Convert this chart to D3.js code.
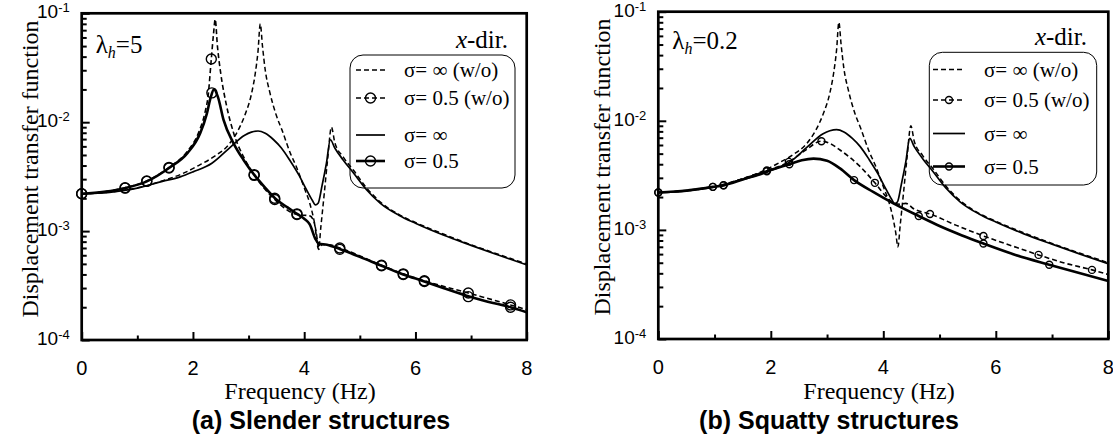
<!DOCTYPE html>
<html>
<head>
<meta charset="utf-8">
<script src="https://cdn.jsdelivr.net/npm/d3@7"></script>
<style>
body { margin: 0; background: #fff; }
svg text { fill: #000; }
</style>
</head>
<body>
<svg id="chart" width="1113" height="443"></svg>
<script>
// axis ticks and legend labels
var freqTicks = [0, 1, 2, 3, 4, 5, 6, 7, 8]
var freqLabels = [0, 2, 4, 6, 8]
var decadeExp = [-4, -3, -2, -1]
var legendNames = ["σ= ∞ (w/o)", "σ= 0.5 (w/o)", "σ= ∞", "σ= 0.5"]

// sigma = infinity, same in both panels
var infWo = [[0, 2.2e-3], [0.5, 2.28e-3], [1.0, 2.5e-3], [1.5, 2.95e-3], [1.8, 3.35e-3], [2.1, 4.0e-3],
  [2.37, 4.8e-3], [2.64, 6.2e-3], [2.8, 8.2e-3], [2.93, 1.15e-2], [3.05, 1.8e-2], [3.12, 2.8e-2],
  [3.17, 4.5e-2], [3.21, 8.0e-2], [3.25, 5.0e-2], [3.3, 3.0e-2], [3.38, 1.9e-2], [3.5, 1.15e-2],
  [3.6, 8.5e-3], [3.75, 5.2e-3], [3.85, 4.0e-3], [4.0, 2.5e-3], [4.1, 1.8e-3], [4.17, 1.3e-3],
  [4.22, 9.5e-4], [4.26, 7.0e-4], [4.3, 1.1e-3], [4.36, 2.2e-3], [4.42, 4.5e-3], [4.49, 9.0e-3],
  [4.55, 6.5e-3], [4.7, 4.8e-3], [4.89, 3.6e-3], [5.12, 2.5e-3], [5.37, 1.85e-3], [5.7, 1.42e-3],
  [6.0, 1.2e-3], [6.5, 9.4e-4], [7.0, 7.5e-4], [7.5, 6.1e-4], [8.0, 5.0e-4]]
var inf = [[0, 2.2e-3], [0.5, 2.27e-3], [1.0, 2.48e-3], [1.45, 2.86e-3], [1.77, 3.15e-3], [2.0, 3.5e-3],
  [2.34, 4.2e-3], [2.64, 5.7e-3], [2.93, 7.6e-3], [3.05, 8.1e-3], [3.17, 8.3e-3], [3.3, 7.9e-3],
  [3.45, 6.9e-3], [3.59, 5.8e-3], [3.75, 4.4e-3], [3.9, 3.3e-3], [4.05, 2.35e-3], [4.15, 1.9e-3],
  [4.2, 1.74e-3], [4.25, 1.8e-3], [4.32, 2.6e-3], [4.4, 4.2e-3], [4.47, 6.9e-3], [4.55, 5.8e-3],
  [4.7, 4.5e-3], [4.89, 3.4e-3], [5.12, 2.4e-3], [5.37, 1.8e-3], [5.7, 1.4e-3], [6.0, 1.18e-3],
  [6.5, 9.2e-4], [7.0, 7.4e-4], [7.5, 6.0e-4], [8.0, 4.9e-4]]

// (a) slender, lambda_h = 5, sigma = 0.5
var slenderWo = [[0, 2.2e-3], [0.4, 2.3e-3], [0.78, 2.5e-3], [1.17, 2.88e-3], [1.57, 3.85e-3], [1.9, 5.4e-3],
  [2.1, 8.0e-3], [2.22, 1.25e-2], [2.27, 1.7e-2], [2.33, 3.8e-2], [2.37, 6.5e-2], [2.4, 8.8e-2],
  [2.44, 5.0e-2], [2.5, 2.8e-2], [2.6, 1.45e-2], [2.73, 8.0e-3], [2.91, 4.8e-3], [3.1, 3.3e-3],
  [3.47, 1.95e-3], [3.87, 1.42e-3], [4.1, 1.38e-3], [4.18, 1.2e-3], [4.26, 6.8e-4], [4.32, 7.5e-4],
  [4.45, 7.5e-4], [4.64, 7.0e-4], [5.39, 4.85e-4], [5.78, 4.05e-4], [6.16, 3.5e-4], [6.95, 2.7e-4],
  [7.71, 2.1e-4], [8.0, 1.9e-4]]
var slender = [[0, 2.2e-3], [0.4, 2.3e-3], [0.78, 2.48e-3], [1.17, 2.86e-3], [1.57, 3.8e-3], [1.9, 5.2e-3],
  [2.13, 7.9e-3], [2.25, 1.2e-2], [2.32, 1.7e-2], [2.38, 2.0e-2], [2.45, 1.7e-2], [2.55, 1.05e-2],
  [2.73, 6.4e-3], [2.91, 4.5e-3], [3.12, 3.2e-3], [3.3, 2.5e-3], [3.5, 1.95e-3], [3.7, 1.65e-3],
  [3.88, 1.43e-3], [4.0, 1.3e-3], [4.1, 1.15e-3], [4.2, 8.5e-4], [4.26, 7.7e-4], [4.41, 7.5e-4],
  [4.65, 6.8e-4], [5.0, 5.8e-4], [5.39, 4.8e-4], [5.78, 4.0e-4], [6.16, 3.45e-4], [6.5, 3.0e-4],
  [6.92, 2.55e-4], [7.3, 2.25e-4], [7.71, 2.0e-4], [8.0, 1.8e-4]]
var slenderWoMarks = [[0, 2.2e-3], [0.78, 2.5e-3], [1.17, 2.88e-3], [1.57, 3.85e-3], [2.33, 3.8e-2], [3.1, 3.3e-3],
  [3.47, 1.95e-3], [3.87, 1.42e-3], [4.64, 7.0e-4], [5.39, 4.85e-4], [5.78, 4.05e-4], [6.16, 3.5e-4],
  [6.95, 2.7e-4], [7.71, 2.1e-4]]
var slenderMarks = [[0, 2.2e-3], [0.78, 2.48e-3], [1.17, 2.86e-3], [1.57, 3.8e-3], [2.34, 1.86e-2], [3.1, 3.25e-3],
  [3.47, 2.0e-3], [3.87, 1.44e-3], [4.64, 6.8e-4], [5.39, 4.8e-4], [5.78, 4.0e-4], [6.16, 3.45e-4],
  [6.95, 2.5e-4], [7.71, 2.0e-4]]

// (b) squatty, lambda_h = 0.2, sigma = 0.5
var squattyWo = [[0, 2.2e-3], [0.5, 2.3e-3], [0.97, 2.48e-3], [1.16, 2.57e-3], [1.5, 2.95e-3], [1.93, 3.5e-3],
  [2.32, 4.2e-3], [2.6, 5.3e-3], [2.9, 6.5e-3], [3.05, 6.2e-3], [3.23, 5.4e-3], [3.59, 3.8e-3],
  [3.85, 2.7e-3], [4.06, 2.0e-3], [4.2, 1.75e-3], [4.3, 1.72e-3], [4.4, 1.75e-3], [4.55, 1.55e-3],
  [4.83, 1.4e-3], [5.3, 1.1e-3], [5.78, 8.8e-4], [6.3, 7.1e-4], [6.76, 5.9e-4], [7.2, 5.0e-4],
  [7.71, 4.3e-4], [8.0, 3.9e-4]]
var squatty = [[0, 2.2e-3], [0.5, 2.3e-3], [0.97, 2.48e-3], [1.16, 2.56e-3], [1.5, 2.9e-3], [1.93, 3.45e-3],
  [2.33, 4.0e-3], [2.55, 4.35e-3], [2.76, 4.5e-3], [3.0, 4.3e-3], [3.23, 3.66e-3], [3.48, 2.86e-3],
  [3.82, 2.23e-3], [4.18, 1.75e-3], [4.63, 1.34e-3], [5.01, 1.08e-3], [5.4, 8.9e-4], [5.78, 7.5e-4],
  [6.35, 5.9e-4], [6.95, 4.8e-4], [7.5, 4.0e-4], [8.0, 3.4e-4]]
var squattyWoMarks = [[0, 2.2e-3], [0.97, 2.48e-3], [1.16, 2.57e-3], [1.93, 3.5e-3], [2.32, 4.2e-3], [2.9, 6.5e-3],
  [3.85, 2.7e-3], [4.83, 1.4e-3], [5.78, 8.8e-4], [6.76, 5.9e-4], [7.71, 4.3e-4]]
var squattyMarks = [[0, 2.2e-3], [0.97, 2.48e-3], [1.16, 2.56e-3], [1.93, 3.45e-3], [2.33, 4.0e-3], [3.48, 2.86e-3],
  [4.63, 1.34e-3], [5.78, 7.5e-4], [6.95, 4.8e-4]]

var svg = d3.select("#chart")
var serif = "'Liberation Serif', 'Times New Roman', serif"
var sans = "'Liberation Sans', Arial, sans-serif"

function drawPanel(p) {
    var x = d3.scaleLinear().domain([0, 8]).range([p.left, p.right])
    var y = d3.scaleLog().domain([1e-4, 1e-1]).range([p.bottom, p.top])
    var g = svg.append("g")

    // y ticks (inside)
    var minor = []
    decadeExp.slice(0, 3).forEach(function (e) {
        for (var k = 2; k < 10; k++) minor.push(k * Math.pow(10, e))
    })
    var majors = decadeExp.map(function (e) { return Math.pow(10, e) })
    g.append("g").attr("class", "ax").attr("transform", "translate(" + p.left + ",0)")
        .call(d3.axisLeft(y).tickValues(minor).tickSize(-5).tickFormat(""))
    g.append("g").attr("class", "ax").attr("transform", "translate(" + p.left + ",0)")
        .call(d3.axisLeft(y).tickValues(majors).tickSize(-8).tickFormat(""))
    // x ticks (inside)
    g.append("g").attr("class", "ax").attr("transform", "translate(0," + p.bottom + ")")
        .call(d3.axisBottom(x).tickValues(freqTicks.filter(function (d) { return d % 2 })).tickSize(-4.5).tickFormat(""))
    g.append("g").attr("class", "ax").attr("transform", "translate(0," + p.bottom + ")")
        .call(d3.axisBottom(x).tickValues(freqLabels).tickSize(-8).tickFormat(""))
    g.selectAll(".ax .domain").remove()
    g.selectAll(".ax line").attr("stroke", "#000").attr("stroke-width", 2)

    // frame
    g.append("rect")
        .attr("x", p.left).attr("y", p.top)
        .attr("width", p.right - p.left).attr("height", p.bottom - p.top)
        .attr("fill", "none").attr("stroke", "#000").attr("stroke-width", 2.7)

    // tick labels
    g.selectAll(".xl").data(freqLabels).enter().append("text")
        .attr("x", function (d) { return x(d) })
        .attr("y", p.bottom + 35)
        .attr("text-anchor", "middle")
        .style("font-family", sans).style("font-size", "20px")
        .text(function (d) { return d })
    decadeExp.forEach(function (e) {
        var t = g.append("text")
            .attr("x", p.left - 12).attr("y", y(Math.pow(10, e)) + 5)
            .attr("text-anchor", "end")
            .style("font-family", sans).style("font-size", "19px")
        t.append("tspan").text("10")
        t.append("tspan").attr("dy", -6).style("font-size", "13px").text(e)
    })

    // axis titles
    g.append("text")
        .attr("transform", "translate(" + p.ylabX + "," + p.ylabY + ")rotate(-90)")
        .attr("text-anchor", "middle")
        .style("font-family", serif).style("font-size", "24px")
        .text("Displacement transfer function")
    g.append("text")
        .attr("x", p.xlabX).attr("y", 399)
        .attr("text-anchor", "middle")
        .style("font-family", serif).style("font-size", "24px")
        .text("Frequency (Hz)")
    g.append("text")
        .attr("x", p.capX).attr("y", 429)
        .attr("text-anchor", "middle")
        .style("font-family", sans).style("font-size", "25px").style("font-weight", "bold")
        .text(p.caption)

    // lambda label
    var lam = g.append("text")
        .attr("x", p.left + 14).attr("y", p.lamY)
        .style("font-family", serif).style("font-size", "25px")
    lam.append("tspan").text("λ")
    lam.append("tspan").attr("dy", 5).style("font-size", "16px").style("font-style", "italic").text("h")
    lam.append("tspan").attr("dy", -5).text("=" + p.lambda)

    // x-dir.
    var xd = g.append("text")
        .attr("x", p.xdirX).attr("y", p.xdirY)
        .attr("text-anchor", "end")
        .style("font-family", serif).style("font-size", "25px")
    xd.append("tspan").style("font-style", "italic").text("x")
    xd.append("tspan").text("-dir.")

    // curves
    var line = d3.line()
        .x(function (d) { return x(d[0]) })
        .y(function (d) { return y(d[1]) })
        .curve(d3.curveMonotoneX)
    var styles = [
        { data: infWo, dash: "5,3", w: 1.5 },
        { data: p.halfWo, dash: "5,3", w: 1.6, marks: p.halfWoMarks },
        { data: inf, dash: null, w: 1.7 },
        { data: p.half, dash: null, w: 2.6, marks: p.halfMarks }
    ]
    styles.forEach(function (s) {
        g.append("path")
            .datum(s.data)
            .attr("d", line)
            .attr("fill", "none")
            .attr("stroke", "#000")
            .attr("stroke-width", s.w)
            .attr("stroke-dasharray", s.dash)
        if (s.marks) {
            g.append("g").selectAll("circle")
                .data(s.marks)
                .enter()
                .append("circle")
                .attr("cx", function (d) { return x(d[0]) })
                .attr("cy", function (d) { return y(d[1]) })
                .attr("r", p.r)
                .attr("fill", "none")
                .attr("stroke", "#000")
                .attr("stroke-width", 1.4)
        }
    })

    // legend
    var L = p.legend
    g.append("rect")
        .attr("x", L.x).attr("y", L.y).attr("width", L.w).attr("height", L.h)
        .attr("rx", 13).attr("ry", 13)
        .attr("fill", "none").attr("stroke", "#000").attr("stroke-width", 1)
    legendNames.forEach(function (name, i) {
        var s = styles[i]
        var ly = L.rows[i]
        g.append("line")
            .attr("x1", L.lx).attr("x2", L.lx + L.lw)
            .attr("y1", ly).attr("y2", ly)
            .attr("stroke", "#000").attr("stroke-width", s.w)
            .attr("stroke-dasharray", s.dash)
        if (s.marks) {
            g.append("circle")
                .attr("cx", L.lx + L.lw / 2).attr("cy", ly).attr("r", p.r)
                .attr("fill", "none").attr("stroke", "#000").attr("stroke-width", 1.4)
        }
        g.append("text")
            .attr("x", L.tx).attr("y", ly + 7)
            .style("font-family", serif).style("font-size", "21px")
            .text(name)
    })
}

drawPanel({
    left: 81.7, right: 526.7, top: 13.3, bottom: 340,
    halfWo: slenderWo, half: slender, halfWoMarks: slenderWoMarks, halfMarks: slenderMarks,
    r: 5, lambda: "5", lamY: 53,
    xdirX: 508, xdirY: 48,
    ylabX: 38, ylabY: 169, xlabX: 300, capX: 321,
    caption: "(a) Slender structures",
    legend: { x: 350, y: 55, w: 165, h: 133, lx: 356, lw: 29, tx: 404, rows: [70, 98, 135, 161] }
})
drawPanel({
    left: 658.3, right: 1108.3, top: 11.7, bottom: 339,
    halfWo: squattyWo, half: squatty, halfWoMarks: squattyWoMarks, halfMarks: squattyMarks,
    r: 3.5, lambda: "0.2", lamY: 49,
    xdirX: 1087, xdirY: 45,
    ylabX: 610, ylabY: 167, xlabX: 879, capX: 829,
    caption: "(b) Squatty structures",
    legend: { x: 929.3, y: 52.3, w: 167.4, h: 132.7, lx: 933, lw: 32, tx: 984, rows: [69.5, 100, 133.5, 166.5] }
})
</script>
</body>
</html>
